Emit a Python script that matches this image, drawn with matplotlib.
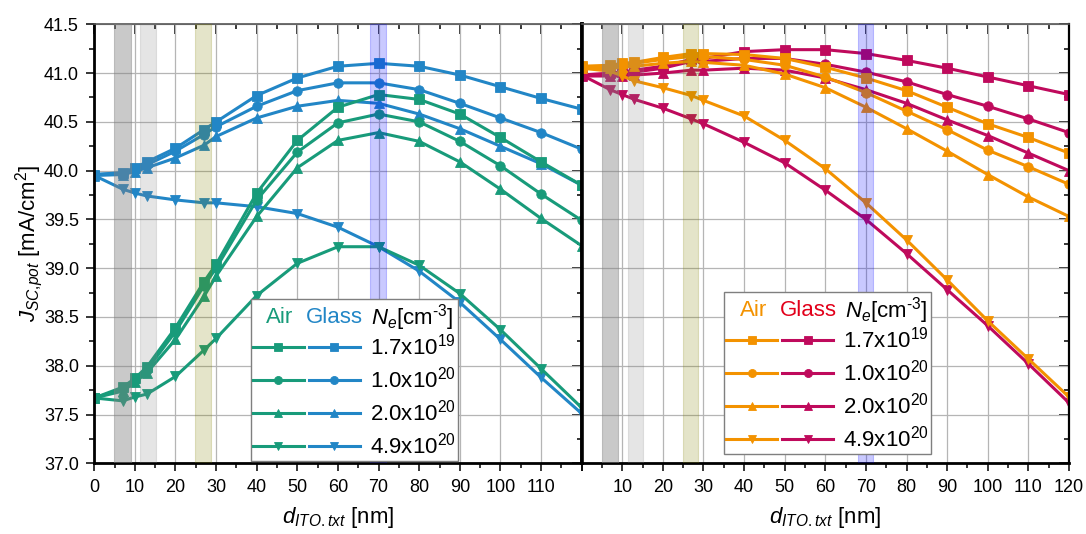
import matplotlib
matplotlib.use('Agg')
import matplotlib.pyplot as plt
from matplotlib.legend_handler import HandlerTuple
from matplotlib.ticker import MultipleLocator, FixedLocator, FixedFormatter, FormatStrFormatter

plt.rcParams['font.family'] = ['Liberation Sans', 'DejaVu Sans']
plt.rcParams['mathtext.fontset'] = 'custom'
plt.rcParams['mathtext.rm'] = 'Liberation Sans'
plt.rcParams['mathtext.it'] = 'Liberation Sans:italic'
plt.rcParams['mathtext.bf'] = 'Liberation Sans:bold'

# ITO thickness [nm]
d_ito = [0, 7, 10, 13, 20, 27, 30, 40, 50, 60, 70, 80, 90, 100, 110, 120]

ne_labels = [r'1.7x10$^{19}$', r'1.0x10$^{20}$', r'2.0x10$^{20}$', r'4.9x10$^{20}$']
markers = ['s', 'o', '^', 'v']

# left panel, Air (green) / Glass (blue)
air_l_17e19 = [37.67, 37.78, 37.87, 37.99, 38.39, 38.86, 39.04, 39.77, 40.31, 40.65, 40.78, 40.73, 40.58, 40.34, 40.09, 39.85]
air_l_10e20 = [37.67, 37.76, 37.85, 37.96, 38.35, 38.82, 39.00, 39.70, 40.19, 40.49, 40.58, 40.50, 40.30, 40.05, 39.76, 39.49]
air_l_20e20 = [37.67, 37.74, 37.83, 37.93, 38.27, 38.71, 38.92, 39.53, 40.03, 40.31, 40.39, 40.30, 40.09, 39.81, 39.51, 39.23]
air_l_49e20 = [37.67, 37.64, 37.68, 37.71, 37.89, 38.16, 38.28, 38.72, 39.05, 39.22, 39.22, 39.03, 38.74, 38.37, 37.97, 37.57]

glass_l_17e19 = [39.96, 39.98, 40.03, 40.09, 40.23, 40.42, 40.50, 40.77, 40.95, 41.07, 41.10, 41.07, 40.98, 40.86, 40.74, 40.63]
glass_l_10e20 = [39.96, 39.97, 40.01, 40.06, 40.20, 40.37, 40.45, 40.66, 40.82, 40.90, 40.90, 40.83, 40.69, 40.54, 40.39, 40.22]
glass_l_20e20 = [39.95, 39.96, 39.99, 40.03, 40.13, 40.26, 40.35, 40.54, 40.66, 40.72, 40.69, 40.58, 40.43, 40.25, 40.07, 39.85]
glass_l_49e20 = [39.95, 39.81, 39.77, 39.74, 39.70, 39.67, 39.67, 39.63, 39.56, 39.42, 39.22, 38.97, 38.65, 38.27, 37.88, 37.51]

# right panel, Air (orange) / Glass (crimson)
air_r_17e19 = [41.07, 41.08, 41.10, 41.11, 41.16, 41.20, 41.20, 41.19, 41.15, 41.06, 40.95, 40.82, 40.65, 40.48, 40.34, 40.18]
air_r_10e20 = [41.06, 41.07, 41.08, 41.10, 41.14, 41.17, 41.17, 41.14, 41.08, 40.96, 40.80, 40.61, 40.42, 40.21, 40.04, 39.86]
air_r_20e20 = [41.05, 41.05, 41.06, 41.07, 41.10, 41.12, 41.11, 41.08, 40.99, 40.85, 40.65, 40.43, 40.20, 39.96, 39.73, 39.53]
air_r_49e20 = [41.05, 41.02, 40.97, 40.92, 40.85, 40.77, 40.72, 40.56, 40.31, 40.02, 39.67, 39.29, 38.88, 38.46, 38.07, 37.68]

glass_r_17e19 = [40.98, 41.00, 41.01, 41.03, 41.07, 41.14, 41.15, 41.22, 41.24, 41.24, 41.20, 41.13, 41.05, 40.96, 40.87, 40.78]
glass_r_10e20 = [40.98, 40.98, 41.00, 41.01, 41.05, 41.12, 41.12, 41.15, 41.15, 41.09, 41.01, 40.91, 40.78, 40.66, 40.53, 40.39]
glass_r_20e20 = [40.97, 40.97, 40.97, 40.98, 41.00, 41.03, 41.03, 41.05, 41.03, 40.95, 40.83, 40.69, 40.52, 40.36, 40.18, 40.00]
glass_r_49e20 = [40.98, 40.83, 40.78, 40.73, 40.64, 40.53, 40.48, 40.29, 40.08, 39.80, 39.50, 39.15, 38.78, 38.41, 38.02, 37.62]

# highlighted thickness ranges (start, stop, color, alpha)
bands = [(4.9, 9.0, '#808080', 0.42),
         (11.3, 15.1, '#808080', 0.2),
         (24.9, 28.7, '#808000', 0.21),
         (68.0, 71.8, '#0000ff', 0.21)]

green = '#189b7a'
blue = '#2286c6'
orange = '#f39200'
crimson = '#bf0a5c'
red_txt = '#e2001a'

xticks = list(range(0, 121, 10))

fig = plt.figure(figsize=(10.86, 5.34), dpi=100)
ax1 = fig.add_axes([0.0868, 0.1324, 0.4488, 0.8221])
ax2 = fig.add_axes([0.5356, 0.1324, 0.4487, 0.8221])


def draw_panel(ax, air_sets, glass_sets, c_air, c_glass):
    air_lines, glass_lines = [], []
    for ys, m in zip(air_sets, markers):
        ln, = ax.plot(d_ito, ys, color=c_air, marker=m, ms=6.8, mew=0.6, lw=2.2, zorder=2.2)
        air_lines.append(ln)
    for ys, m in zip(glass_sets, markers):
        ln, = ax.plot(d_ito, ys, color=c_glass, marker=m, ms=6.8, mew=0.6, lw=2.2, zorder=2.1)
        glass_lines.append(ln)
    for x0, x1, c, a in bands:
        ax.axvspan(x0, x1, facecolor=c, edgecolor=c, alpha=a, lw=0.8, zorder=3)
    ax.set_xlim(0, 120)
    ax.set_ylim(37.0, 41.5)
    ax.grid(True, which='major', color='#b5b5b5', lw=0.9)
    ax.set_axisbelow(True)
    ax.xaxis.set_major_locator(FixedLocator(xticks))
    ax.xaxis.set_minor_locator(MultipleLocator(5))
    ax.yaxis.set_major_locator(MultipleLocator(0.5))
    ax.yaxis.set_minor_locator(MultipleLocator(0.25))
    ax.tick_params(which='both', direction='out', top=False, right=False, width=1.1,
                   labelsize=13, color='black')
    ax.tick_params(which='major', length=6, pad=5)
    ax.tick_params(which='minor', length=3.5)
    for s in ['left', 'bottom', 'right']:
        ax.spines[s].set_linewidth(2)
        ax.spines[s].set_color('black')
    ax.spines['top'].set_linewidth(1.2)
    ax.spines['top'].set_color('#555555')
    top = ax.secondary_xaxis('top')
    top.xaxis.set_major_locator(FixedLocator(xticks))
    top.xaxis.set_minor_locator(MultipleLocator(5))
    top.tick_params(which='both', direction='in', labeltop=False, width=1.1, color='black')
    top.tick_params(which='major', length=7)
    top.tick_params(which='minor', length=3.5)
    top.spines['top'].set_visible(False)
    ax.set_xlabel(r'$d_{ITO.txt}$ [nm]', fontsize=16, labelpad=7)
    return air_lines, glass_lines


def add_legend(ax, air_lines, glass_lines, anchor, c_air, c_glass_txt):
    leg = ax.legend([(a, g) for a, g in zip(air_lines, glass_lines)], ne_labels,
                    handler_map={tuple: HandlerTuple(ndivide=None, pad=0.22)},
                    loc='lower left', bbox_to_anchor=anchor, borderaxespad=0,
                    fontsize=16, handlelength=4.8, handletextpad=0.45, borderpad=0.1,
                    labelspacing=0.32, title=' ', title_fontsize=20, markerscale=0.85,
                    fancybox=False, framealpha=1, edgecolor='#7f7f7f')
    leg.get_frame().set_linewidth(1.0)
    leg.set_zorder(5)
    ax.annotate('Air', xy=(0.074, 0.885), xycoords=leg, color=c_air, fontsize=16,
                va='center', ha='left', zorder=6)
    ax.annotate('Glass', xy=(0.267, 0.885), xycoords=leg, color=c_glass_txt, fontsize=16,
                va='center', ha='left', zorder=6)
    ax.annotate(r'$N_e$[cm$^{\text{-}3}$]', xy=(0.582, 0.885), xycoords=leg, color='black',
                fontsize=16, va='center', ha='left', zorder=6)
    return leg


# left panel
air_l = [air_l_17e19, air_l_10e20, air_l_20e20, air_l_49e20]
glass_l = [glass_l_17e19, glass_l_10e20, glass_l_20e20, glass_l_49e20]
al, gl = draw_panel(ax1, air_l, glass_l, green, blue)
ax1.xaxis.set_major_formatter(FixedFormatter([str(t) if t < 120 else '' for t in xticks]))
ax1.yaxis.set_major_formatter(FormatStrFormatter('%.1f'))
ax1.set_ylabel(r'$J_{SC{,}pot}$ [mA/cm$^2$]', fontsize=16, labelpad=-1)
rgt = ax1.secondary_yaxis('right')
rgt.yaxis.set_major_locator(MultipleLocator(0.5))
rgt.yaxis.set_minor_locator(MultipleLocator(0.25))
rgt.tick_params(which='both', direction='in', labelright=False, width=1.1, color='black')
rgt.tick_params(which='major', length=7)
rgt.tick_params(which='minor', length=3.5)
rgt.spines['right'].set_visible(False)
ax1.spines['right'].set_linewidth(2.6)
add_legend(ax1, al, gl, (0.321, 0.005), green, blue)

# right panel
air_r = [air_r_17e19, air_r_10e20, air_r_20e20, air_r_49e20]
glass_r = [glass_r_17e19, glass_r_10e20, glass_r_20e20, glass_r_49e20]
ar, gr = draw_panel(ax2, air_r, glass_r, orange, crimson)
ax2.xaxis.set_major_formatter(FixedFormatter([str(t) if t > 0 else '' for t in xticks]))
ax2.tick_params(axis='y', which='both', left=False, labelleft=False)
rgt2 = ax2.secondary_yaxis('right')
rgt2.yaxis.set_major_locator(MultipleLocator(0.5))
rgt2.yaxis.set_minor_locator(MultipleLocator(0.25))
rgt2.tick_params(which='both', direction='in', labelright=False, width=1.1, color='black')
rgt2.tick_params(which='major', length=7)
rgt2.tick_params(which='minor', length=3.5)
rgt2.spines['right'].set_visible(False)
ax2.spines['left'].set_linewidth(2.6)
ax2.spines['right'].set_linewidth(1.6)
add_legend(ax2, ar, gr, (0.2926, 0.021), orange, red_txt)

fig.savefig('out.png', dpi=100)
